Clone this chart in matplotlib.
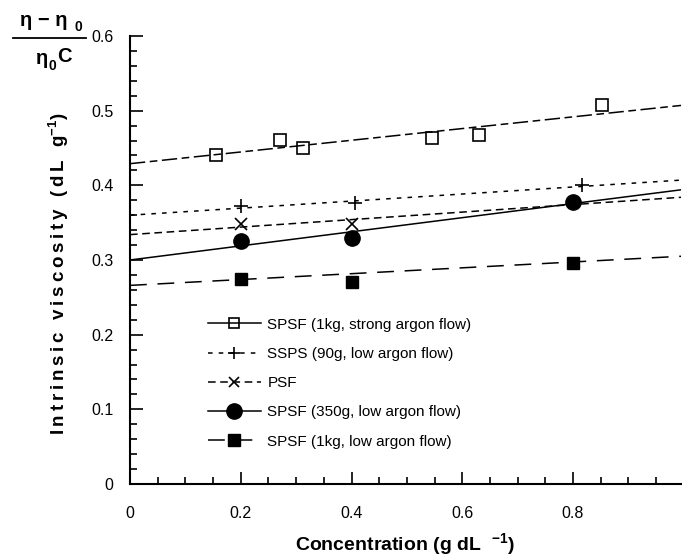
import matplotlib
matplotlib.use("Agg")
import matplotlib.pyplot as plt
from matplotlib.lines import Line2D
from matplotlib.ticker import MultipleLocator

plt.rcParams["font.family"] = ["Liberation Sans", "DejaVu Sans"]
plt.rcParams["mathtext.fontset"] = "custom"
plt.rcParams["mathtext.rm"] = "Liberation Sans"
plt.rcParams["mathtext.bf"] = "Liberation Sans:bold"
plt.rcParams["mathtext.it"] = "Liberation Sans:italic"

# measured points
strong_x = [0.156, 0.27, 0.313, 0.545, 0.63, 0.853]
strong_y = [0.440, 0.461, 0.450, 0.463, 0.467, 0.507]
ssps_x = [0.2, 0.406, 0.816]
ssps_y = [0.372, 0.377, 0.400]
psf_x = [0.2, 0.4]
psf_y = [0.348, 0.348]
spsf350_x = [0.2, 0.4, 0.8]
spsf350_y = [0.326, 0.330, 0.378]
spsf1kg_x = [0.2, 0.4, 0.8]
spsf1kg_y = [0.274, 0.270, 0.296]

# fitted lines (value at x=0 and at right edge)
fit_x = [0.0, 0.995]
strong_fit = [0.429, 0.507]
ssps_fit = [0.360, 0.407]
psf_fit = [0.334, 0.384]
spsf350_fit = [0.300, 0.394]
spsf1kg_fit = [0.266, 0.305]

labels = [
    "SPSF (1kg, strong argon flow)",
    "SSPS (90g, low argon flow)",
    "PSF",
    "SPSF (350g, low argon flow)",
    "SPSF (1kg, low argon flow)",
]

fig = plt.figure(figsize=(6.82, 5.58), dpi=100)
ax = fig.add_axes([130 / 682, 74 / 558, 551 / 682, 448 / 558])

lw = 1.1
ax.plot(fit_x, strong_fit, color="black", lw=lw, dashes=(10, 3, 5, 3))
ax.plot(fit_x, ssps_fit, color="black", lw=lw, dashes=(3, 4))
ax.plot(fit_x, psf_fit, color="black", lw=lw, dashes=(5, 3))
ax.plot(fit_x, spsf350_fit, color="black", lw=lw)
ax.plot(fit_x, spsf1kg_fit, color="black", lw=lw, dashes=(11, 7))

ax.plot(strong_x, strong_y, ls="none", marker="s", ms=8, mfc="none", mec="black", mew=1.2)
ax.plot(ssps_x, ssps_y, ls="none", marker="+", ms=10, mec="black", mew=1.2)
ax.plot(psf_x, psf_y, ls="none", marker="x", ms=8, mec="black", mew=1.2)
ax.plot(spsf350_x, spsf350_y, ls="none", marker="o", ms=11, color="black")
ax.plot(spsf1kg_x, spsf1kg_y, ls="none", marker="s", ms=9, color="black")

handles = [
    Line2D([], [], color="black", lw=lw, marker="s", ms=7, mfc="none", mew=1.2),
    Line2D([], [], color="black", lw=lw, dashes=(3, 4), marker="+", ms=9, mew=1.2),
    Line2D([], [], color="black", lw=lw, dashes=(5, 3), marker="x", ms=7, mew=1.2),
    Line2D([], [], color="black", lw=lw, marker="o", ms=11),
    Line2D([], [], color="black", lw=lw, dashes=(11, 7), marker="s", ms=9),
]
ax.legend(handles, labels, loc="upper left", bbox_to_anchor=(0.13, 0.385),
          frameon=False, fontsize=11, handlelength=3.5, handletextpad=0.4,
          labelspacing=1.0, borderaxespad=0)

ax.set_xlim(0, 0.995)
ax.set_ylim(0, 0.6)
ax.xaxis.set_minor_locator(MultipleLocator(0.05))
ax.yaxis.set_minor_locator(MultipleLocator(0.02))
ax.set_xticks([0, 0.2, 0.4, 0.6, 0.8])
ax.set_xticklabels(["0", "0.2", "0.4", "0.6", "0.8"])
ax.set_yticks([0, 0.1, 0.2, 0.3, 0.4, 0.5, 0.6])
ax.set_yticklabels(["0", "0.1", "0.2", "0.3", "0.4", "0.5", "0.6"])
ax.tick_params(which="both", direction="in", width=1.2, labelsize=11.5)
ax.tick_params(which="major", length=9, pad=16)
ax.tick_params(which="minor", length=5)
ax.tick_params(axis="y", which="major", pad=12)
for side in ("top", "right"):
    ax.spines[side].set_visible(False)
for side in ("left", "bottom"):
    ax.spines[side].set_linewidth(1.5)

# axis titles (the y title in the original is letter-spaced)
fig.text(405 / 682, 1 - 544 / 558, r"Concentration (g dL  $\mathbf{^{-1}}$)",
         fontsize=14, fontweight="bold", ha="center", va="center")
ylab = "\u2009".join("Intrinsic viscosity (dL g")
fig.text(59 / 682, 1 - 274 / 558, ylab + r"$\mathbf{^{-1}}$)", rotation=90,
         fontsize=13.5, fontweight="bold", ha="center", va="center")

# reduced viscosity fraction in the top left corner
fig.text(44 / 682, 1 - 21 / 558, "η − η", fontsize=14.5, fontweight="bold", ha="center", va="center")
fig.text(78 / 682, 1 - 27 / 558, "0", fontsize=10, fontweight="bold", ha="center", va="center")
fig.add_artist(Line2D([13 / 682, 86 / 682], [1 - 38 / 558, 1 - 38 / 558], color="black", lw=1.3))
fig.text(42 / 682, 1 - 58 / 558, "η", fontsize=14.5, fontweight="bold", ha="center", va="center")
fig.text(52 / 682, 1 - 66 / 558, "0", fontsize=10, fontweight="bold", ha="center", va="center")
fig.text(64 / 682, 1 - 57 / 558, "C", fontsize=14.5, fontweight="bold", ha="center", va="center")

fig.savefig("out.png", dpi=100)
